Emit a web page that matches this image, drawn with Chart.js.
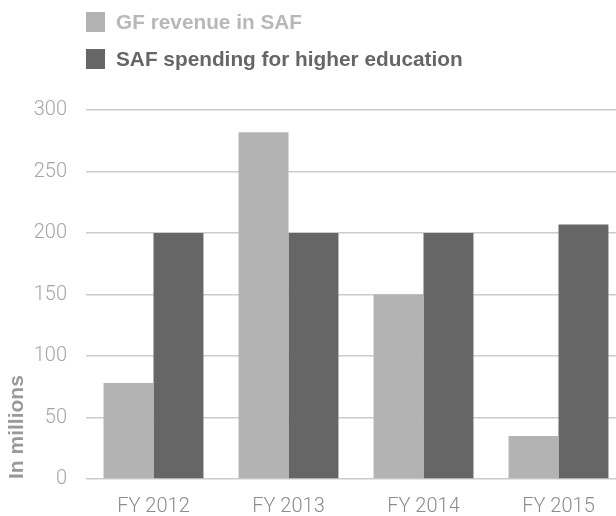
<!DOCTYPE html>
<html>
<head>
<meta charset="utf-8">
<script src="https://cdn.jsdelivr.net/npm/chart.js@4"></script>
<style>
  html, body { margin: 0; padding: 0; background: #fff; overflow: hidden; }
  #wrap { width: 616px; height: 516px; overflow: hidden; }
</style>
</head>
<body>
<div id="wrap"><canvas id="myChart" width="626" height="516"></canvas></div>
<script>
var labels = ['FY 2012', 'FY 2013', 'FY 2014', 'FY 2015'];
var gfRevenue = [78, 282, 150, 35];
var safSpending = [200, 200, 200, 207];
var yTicks = [0, 50, 100, 150, 200, 250, 300];

var LIGHT = '#b3b3b3';
var DARK = '#666666';

// legend stacked in two rows above the plot
var stackedLegend = {
    id: 'stackedLegend',
    afterDraw: function(chart) {
        var ctx = chart.ctx;
        var textColors = ['#b8b8b8', '#666666'];
        ctx.save();
        ctx.font = 'bold 20.8px "Liberation Sans", Arial, sans-serif';
        ctx.textBaseline = 'middle';
        chart.data.datasets.forEach(function(ds, i) {
            var y = 12 + i * 37;
            ctx.fillStyle = ds.backgroundColor;
            ctx.fillRect(86, y, 19, 20);
            ctx.fillStyle = textColors[i];
            ctx.fillText(ds.label, 116, y + 11);
        });
        ctx.restore();
    }
};

var ctx = document.getElementById('myChart').getContext('2d');

var myChart = new Chart(ctx, {
    type: 'bar',
    data: {
        labels: labels,
        datasets: [{
            label: 'GF revenue in SAF',
            data: gfRevenue,
            backgroundColor: LIGHT
        }, {
            label: 'SAF spending for higher education',
            data: safSpending,
            backgroundColor: DARK
        }]
    },
    options: {
        responsive: false,
        animation: false,
        categoryPercentage: 0.74,
        barPercentage: 1.0,
        layout: {
            padding: { top: 110, bottom: 2, left: 0, right: 0 }
        },
        plugins: {
            legend: { display: false },
            tooltip: { enabled: false }
        },
        scales: {
            x: {
                afterFit: function(scale) {
                    scale.height = 35;
                },
                grid: { display: false },
                border: { display: false },
                ticks: {
                    color: '#8c8c8c',
                    padding: 8,
                    font: { family: 'Roboto, "Liberation Sans", sans-serif', size: 20, weight: 300 }
                }
            },
            y: {
                min: 0,
                max: 300,
                afterBuildTicks: function(scale) {
                    scale.ticks = yTicks.map(function(v) { return { value: v }; });
                },
                afterFit: function(scale) {
                    scale.width = 86;
                },
                grid: { color: '#cccccc', lineWidth: 1.5, drawTicks: false },
                border: { display: false },
                ticks: {
                    color: '#a6a6a6',
                    padding: 19,
                    font: { family: 'Roboto, "Liberation Sans", sans-serif', size: 20, weight: 300 }
                },
                title: {
                    display: true,
                    text: 'In millions',
                    align: 'start',
                    color: '#999999',
                    padding: { top: 5, bottom: 0 },
                    font: { family: '"Liberation Sans", Arial, sans-serif', size: 21, weight: 'bold' }
                }
            }
        }
    },
    plugins: [stackedLegend]
});
</script>
</body>
</html>
